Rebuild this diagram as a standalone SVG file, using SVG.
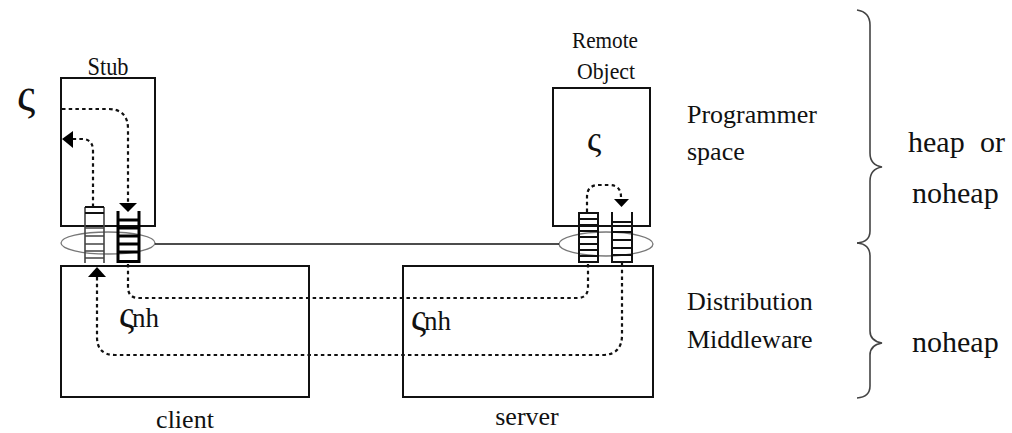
<svg xmlns="http://www.w3.org/2000/svg" width="1012" height="433" viewBox="0 0 1012 433">
<style>
text{font-family:'Liberation Serif','DejaVu Serif',serif;fill:#111}
.box{fill:none;stroke:#111;stroke-width:2}
.dot{fill:none;stroke:#111;stroke-width:2.2;stroke-dasharray:3.5 3.2}
.ell{fill:none;stroke:#777;stroke-width:1.3}
.lad{fill:none;stroke:#111;stroke-width:2}
.ladthin{fill:none;stroke:#444;stroke-width:1.6}
.ladbold{fill:none;stroke:#000;stroke-width:3}
.brace{fill:none;stroke:#444;stroke-width:1.6}
.lbl{font-size:26px}
.big{font-size:30px}
</style>

<g id="bus">
<ellipse class="ell" cx="108" cy="243" rx="47" ry="11"/>
<ellipse class="ell" cx="606" cy="244" rx="47" ry="12"/>
<line x1="155" y1="244" x2="559" y2="244" stroke="#111" stroke-width="1.6"/>
</g>

<g id="stub" font-family="Liberation Serif, serif">
<rect class="box" x="61" y="78" width="94" height="148"/>
<text x="108" y="75" text-anchor="middle" font-size="25" textLength="41" lengthAdjust="spacingAndGlyphs">Stub</text>
</g>

<g id="remote-object" font-family="Liberation Serif, serif">
<rect class="box" x="553" y="88" width="97" height="138"/>
<text x="605" y="48" text-anchor="middle" font-size="24" textLength="66" lengthAdjust="spacingAndGlyphs">Remote</text>
<text x="606" y="79" text-anchor="middle" font-size="24" textLength="58" lengthAdjust="spacingAndGlyphs">Object</text>
<text x="587" y="151" font-size="36">ς</text>
</g>

<g id="client">
<rect class="box" x="61" y="266" width="248" height="131"/>
<text class="lbl" x="185" y="428" text-anchor="middle">client</text>
<text x="119" y="327"><tspan font-size="38">ς</tspan><tspan font-size="27" dx="-2">nh</tspan></text>
</g>

<g id="server">
<rect class="box" x="403" y="266" width="250" height="131"/>
<text class="lbl" x="527" y="425" text-anchor="middle">server</text>
<text x="411" y="330"><tspan font-size="38">ς</tspan><tspan font-size="27" dx="-2">nh</tspan></text>
</g>

<g id="thread-stub">
<text x="17" y="110" font-size="46">ς</text>
</g>

<g id="stub-queues">
<path class="ladthin" d="M85,207 V263 M104,207 V263 M85,228 H104 M85,236 H104 M85,244 H104 M85,251 H104 M85,258 H104"/>
<path class="lad" d="M85,207 H104 M85,213 H104"/>
<path class="ladbold" d="M118,211 V263 M139,211 V263 M118,220 H139 M118,228 H139 M118,236 H139 M118,244 H139 M118,252 H139 M118,261.5 H139"/>
</g>
<g id="remote-queues">
<path class="lad" d="M579,212 V263 M598,212 V263 M579,213 H598 M579,219 H598 M579,225 H598 M579,231 H598 M579,237 H598 M579,244 H598 M579,250 H598 M579,256 H598 M579,262 H598"/>
<path class="lad" d="M612,212 V263 M632,212 V263 M612,222 H632 M612,232 H632 M612,240 H632 M612,248 H632 M612,255 H632 M612,262 H632" stroke-width="2.4"/>
</g>

<g id="connectors">
<path class="dot" d="M62,109 H108 Q128,109 128,129 V203"/>
<path d="M119,203 L137,203 L128,212 Z" fill="#000"/>
<path class="dot" d="M93,207 V151 Q93,139 82,139 H73"/>
<path d="M73,131 L73,148 L62,139 Z" fill="#000"/>
<path class="dot" d="M587,212 V197 Q587,185 599,185 H609 Q621,185 621,197 V199"/>
<path d="M614,199 L629,199 L621.5,207 Z" fill="#000"/>
<path class="dot" d="M128,264 V287 Q128,298 139,298 H577 Q588,298 588,287 V263"/>
<path class="dot" d="M622,263 V335 Q622,355 602,355 H115 Q97,355 97,337 V277"/>
<path d="M88,277 L106,277 L97,267 Z" fill="#000"/>
</g>

<g id="labels">
<text class="lbl" x="687" y="123">Programmer</text>
<text class="lbl" x="687" y="160">space</text>
<text class="lbl" x="687" y="310">Distribution</text>
<text class="lbl" x="687" y="348">Middleware</text>
<text class="big" x="908" y="152">heap</text>
<text class="big" x="1005" y="152" text-anchor="end">or</text>
<text class="big" x="912" y="203">noheap</text>
<text class="big" x="912" y="352">noheap</text>
</g>

<g id="braces">
<path class="brace" d="M857,10 Q870,12 870,25 V153 Q870,165 882,167 Q870,169 870,181 V231 Q870,242 857,243"/>
<path class="brace" d="M857,243 Q870,244 870,256 V331 Q870,341 882,343 Q870,345 870,355 V386 Q870,397 857,398"/>
</g>
</svg>
